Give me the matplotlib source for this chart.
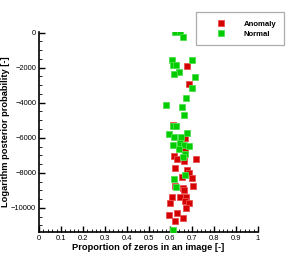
import matplotlib
matplotlib.use("Agg")
import matplotlib.pyplot as plt
from matplotlib.ticker import MultipleLocator

plt.rcParams['font.family'] = ['Liberation Sans', 'DejaVu Sans']

anomaly_x = [0.676, 0.686, 0.667, 0.667, 0.616, 0.629, 0.662, 0.716, 0.621, 0.677,
             0.686, 0.652, 0.697, 0.621, 0.659, 0.663, 0.705, 0.609, 0.644, 0.671,
             0.667, 0.683, 0.598, 0.669, 0.594, 0.628, 0.659, 0.620, 0.613]
anomaly_y = [-1915, -2938, -6023, -6665, -7045, -7233, -7313, -7199, -7744, -7841,
             -8028, -8222, -8278, -8778, -8847, -8994, -8733, -9392, -9358, -9375,
             -9619, -9716, -9733, -9983, -10386, -10313, -10568, -10739, -5244]

normal_x = [0.621, 0.645, 0.659, 0.606, 0.613, 0.626, 0.697, 0.641, 0.618, 0.711,
            0.697, 0.673, 0.581, 0.654, 0.663, 0.613, 0.626, 0.595, 0.676, 0.618,
            0.647, 0.613, 0.644, 0.663, 0.685, 0.641, 0.667, 0.659, 0.667, 0.616,
            0.626, 0.612]
normal_y = [30, 30, -227, -1534, -1835, -1835, -1551, -2256, -2386, -2517,
            -3182, -3733, -4148, -4261, -4716, -5341, -5324, -5795, -5756, -5949,
            -5949, -6392, -6324, -6438, -6477, -6648, -6932, -7085, -8142, -8369,
            -8824, -11278]

series_labels = ["Anomaly", "Normal"]
x_label = "Proportion of zeros in an image [-]"
y_label = "Logarithm posterior probability [-]"

fig = plt.figure(figsize=(2.94, 2.62), dpi=100)
ax = fig.add_axes([0.1327, 0.1145, 0.7449, 0.7635])

ms = 4.3
ax.plot(anomaly_x, anomaly_y, 's', color='#d40000', markersize=ms, markeredgewidth=0.6,
        markeredgecolor='#e85050', label=series_labels[0], zorder=3)
ax.plot(normal_x, normal_y, 's', color='#00cc00', markersize=ms, markeredgewidth=0.6,
        markeredgecolor='#50e050', label=series_labels[1], zorder=4)

ax.set_xlim(0, 1)
ax.set_ylim(-11380, 40)
ax.spines['top'].set_visible(False)
ax.spines['right'].set_visible(False)
ax.spines['left'].set_linewidth(1.2)
ax.spines['bottom'].set_linewidth(1.2)

ax.xaxis.set_minor_locator(MultipleLocator(0.02))
ax.yaxis.set_major_locator(MultipleLocator(2000))
ax.yaxis.set_minor_locator(MultipleLocator(500))
ax.set_xticks([0, 0.1, 0.2, 0.3, 0.4, 0.5, 0.6, 0.7, 0.8, 0.9, 1])
ax.set_xticklabels(['0', '0.1', '0.2', '0.3', '0.4', '0.5', '0.6', '0.7', '0.8', '0.9', '1'])
ax.tick_params(which='major', direction='in', length=4, width=1.0, labelsize=5.4, pad=2)
ax.tick_params(which='minor', direction='in', length=2, width=0.6)

ax.set_xlabel(x_label, fontsize=6.7, fontweight='bold', labelpad=1)
ax.set_ylabel(y_label, fontsize=6.7, fontweight='bold', labelpad=1)

leg = ax.legend(loc='upper left',
                bbox_to_anchor=(195.7/294, 1 - 47.3/262, (284.3-195.7)/294, 35/262),
                bbox_transform=fig.transFigure, mode='expand', frameon=True, fancybox=False,
                edgecolor='#999999', prop={'size': 5.6, 'weight': 'bold'},
                handlelength=4.4, handletextpad=0.8, borderpad=1.0, labelspacing=0.35,
                borderaxespad=0, markerscale=0.9)
leg.get_frame().set_linewidth(0.9)
leg.set_zorder(5)

fig.savefig('out.png', dpi=100)
